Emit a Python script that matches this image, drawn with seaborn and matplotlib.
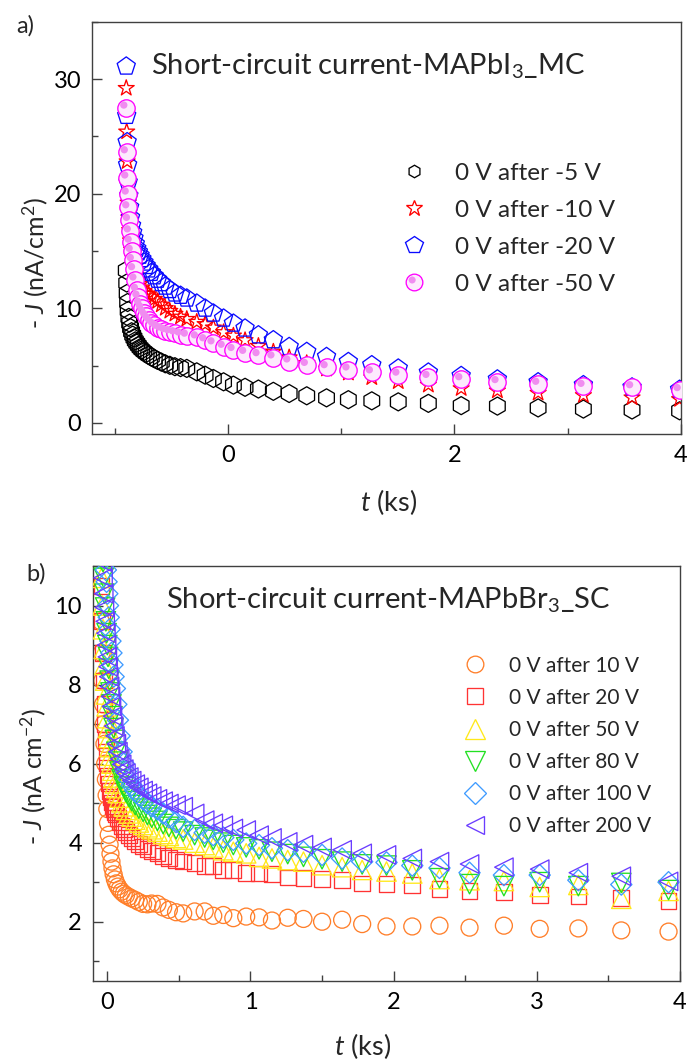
import numpy as np
import matplotlib
matplotlib.use("Agg")
import matplotlib.pyplot as plt
import seaborn as sns
from matplotlib.lines import Line2D
from matplotlib.path import Path
from matplotlib.ticker import MultipleLocator

sns.set_theme(style="ticks")
plt.rcParams['font.family'] = ['Lato', 'DejaVu Sans']
plt.rcParams['mathtext.fontset'] = 'custom'
plt.rcParams['mathtext.rm'] = 'Lato'
plt.rcParams['mathtext.it'] = 'Lato:italic'
plt.rcParams['mathtext.bf'] = 'Lato:bold'

# ---------------- Panel a data (MAPbI3_MC) ----------------
t_a = [-0.900, -0.896, -0.892, -0.888, -0.883, -0.877, -0.870, -0.862, -0.853, -0.843,
       -0.832, -0.820, -0.807, -0.793, -0.778, -0.762, -0.744, -0.724, -0.702, -0.678,
       -0.652, -0.623, -0.590, -0.555, -0.515, -0.470, -0.420, -0.365, -0.277, -0.203,
       -0.130, -0.040, 0.047, 0.150, 0.268, 0.400, 0.540, 0.695, 0.870, 1.063,
       1.270, 1.504, 1.770, 2.060, 2.380, 2.740, 3.140, 3.570, 3.990]
J_a_m5 = [13.3, 12.2, 11.3, 10.5, 9.8, 9.2, 8.7, 8.3, 7.95, 7.65,
          7.4, 7.15, 6.95, 6.75, 6.55, 6.38, 6.22, 6.06, 5.9, 5.75,
          5.6, 5.45, 5.3, 5.15, 5.02, 4.9, 4.82, 4.75, 4.45, 4.16,
          3.87, 3.58, 3.29, 3.1, 2.95, 2.75, 2.56, 2.36, 2.18, 2.02,
          1.92, 1.83, 1.7, 1.5, 1.46, 1.3, 1.2, 1.12, 1.05]
J_a_m10 = [29.2, 25.4, 22.8, 20.8, 19.2, 17.9, 16.8, 15.9, 15.1, 14.4,
           13.8, 13.3, 12.85, 12.45, 12.1, 11.8, 11.5, 11.25, 11.2, 11.0,
           10.8, 10.6, 10.3, 10.0, 9.75, 9.5, 9.25, 9.05, 8.8, 8.6,
           8.3, 7.9, 7.6, 7.2, 6.7, 6.2, 5.7, 5.2, 4.7, 4.35,
           3.95, 3.6, 3.3, 3.0, 2.8, 2.6, 2.4, 2.2, 2.05]
J_a_m20 = [31.1, 26.8, 24.5, 22.5, 21.0, 19.8, 18.8, 17.9, 17.2, 16.6,
           16.1, 15.6, 15.2, 14.9, 14.6, 14.3, 14.0, 13.7, 13.4, 13.1,
           12.8, 12.5, 12.2, 11.9, 11.6, 11.3, 11.1, 10.86, 10.42, 9.98,
           9.55, 9.11, 8.67, 8.24, 7.65, 7.22, 6.63, 6.2, 5.76, 5.32,
           5.04, 4.75, 4.4, 4.1, 3.8, 3.55, 3.3, 3.1, 2.9]
J_a_m50 = [27.5, 23.6, 21.4, 20.0, 18.8, 17.7, 16.7, 15.8, 15.0, 14.2,
           13.4, 12.5, 11.6, 11.0, 10.4, 10.0, 9.6, 9.3, 9.0, 8.75,
           8.5, 8.3, 8.15, 8.0, 7.9, 7.8, 7.7, 7.6, 7.45, 7.2,
           6.93, 6.63, 6.35, 6.1, 5.9, 5.7, 5.35, 5.05, 4.85, 4.65,
           4.4, 4.2, 4.0, 3.8, 3.55, 3.4, 3.22, 3.1, 2.85]
labels_a = ["0 V after -5 V", "0 V after -10 V", "0 V after -20 V", "0 V after -50 V"]

# ---------------- Panel b data (MAPbBr3_SC) ----------------
t_b = [-0.045, -0.040, -0.035, -0.030, -0.025, -0.020, -0.015, -0.010, -0.005, 0.0,
       0.005, 0.010, 0.016, 0.022, 0.029, 0.036, 0.044, 0.053,
       0.063, 0.074, 0.086, 0.10, 0.115, 0.13, 0.15, 0.17,
       0.195, 0.22, 0.25, 0.28, 0.31, 0.35, 0.39, 0.43, 0.48,
       0.53, 0.61, 0.68, 0.74, 0.81, 0.88, 0.97, 1.06, 1.15, 1.26, 1.37, 1.50, 1.64, 1.78, 1.95, 2.13,
       2.32, 2.53, 2.77, 3.02, 3.29, 3.59, 3.92]
J_b_10 = [9.6, 8.8, 8.1, 7.5, 7.0, 6.5, 6.0, 5.6, 5.2, 4.85,
          4.5, 4.2, 3.95, 3.72, 3.52, 3.35, 3.2, 3.07,
          2.97, 2.89, 2.82, 2.76, 2.71, 2.67, 2.63, 2.59,
          2.55, 2.5, 2.45, 2.44, 2.46, 2.45, 2.36, 2.3, 2.24,
          2.21, 2.26, 2.26, 2.15, 2.17, 2.09, 2.13, 2.11, 2.03, 2.1, 2.07, 2.0, 2.05, 1.94, 1.88, 1.88,
          1.9, 1.85, 1.9, 1.82, 1.83, 1.78, 1.75]
J_b_20 = [11.5, 10.5, 9.6, 8.8, 8.1, 7.5, 7.0, 6.6, 6.3, 6.0,
          5.7, 5.5, 5.3, 5.15, 5.02, 4.92, 4.84, 4.78,
          4.72, 4.62, 4.52, 4.43, 4.35, 4.27, 4.19, 4.11,
          4.03, 3.96, 3.9, 3.84, 3.79, 3.73, 3.67, 3.62, 3.57,
          3.52, 3.48, 3.41, 3.41, 3.31, 3.31, 3.24, 3.22, 3.21, 3.12, 3.10, 3.08, 3.06, 2.97, 2.95, 2.93,
          2.82, 2.78, 2.75, 2.68, 2.64, 2.6, 2.53]
J_b_50 = [11.5, 10.7, 10.0, 9.4, 8.9, 8.5, 8.1, 7.75, 7.45, 7.15,
          6.9, 6.65, 6.42, 6.2, 6.0, 5.82, 5.65, 5.5,
          5.38, 5.26, 5.14, 5.02, 4.92, 4.83, 4.74, 4.66,
          4.58, 4.51, 4.45, 4.39, 4.34, 4.28, 4.22, 4.17, 4.12,
          4.08, 4.0, 3.94, 3.88, 3.81, 3.77, 3.73, 3.64, 3.6, 3.56, 3.52, 3.43, 3.38, 3.31, 3.27, 3.22,
          3.08, 3.05, 3.03, 2.88, 2.93, 2.58, 2.78]
J_b_80 = [12.5, 12.0, 11.5, 11.1, 10.7, 10.3, 9.95, 9.6, 9.3, 9.0,
          8.7, 8.4, 8.1, 7.8, 7.5, 7.2, 6.9, 6.6,
          6.3, 6.05, 5.8, 5.6, 5.42, 5.28, 5.16, 5.05,
          4.95, 4.86, 4.78, 4.7, 4.63, 4.55, 4.47, 4.4, 4.34,
          4.28, 4.19, 4.13, 4.07, 4.0, 3.94, 3.88, 3.83, 3.77, 3.71, 3.64, 3.58, 3.52, 3.45, 3.42, 3.3,
          3.1, 2.95, 2.9, 3.0, 2.9, 2.98, 2.8]
J_b_100 = [13.5, 13.0, 12.6, 12.2, 11.8, 11.5, 11.2, 10.9, 10.6, 10.3,
           10.0, 9.7, 9.4, 9.1, 8.8, 8.5, 8.2, 7.9,
           7.5, 7.1, 6.7, 6.3, 6.0, 5.8, 5.6, 5.45,
           5.32, 5.2, 5.1, 5.0, 4.92, 4.84, 4.74, 4.64, 4.52,
           4.4, 4.32, 4.25, 4.19, 4.13, 4.07, 3.98, 3.94, 3.86, 3.81, 3.77, 3.69, 3.6, 3.52, 3.5, 3.42,
           3.36, 3.24, 3.18, 3.18, 3.05, 2.94, 3.0]
J_b_200 = [12.0, 11.5, 11.1, 10.7, 10.3, 9.95, 9.6, 9.3, 9.0, 8.7,
           8.45, 8.2, 7.95, 7.7, 7.45, 7.2, 6.95, 6.7,
           6.5, 6.3, 6.12, 5.98, 5.86, 5.76, 5.66, 5.57,
           5.48, 5.4, 5.32, 5.25, 5.18, 5.11, 5.05, 4.99, 4.95,
           4.91, 4.74, 4.57, 4.49, 4.44, 4.36, 4.32, 4.19, 4.12, 4.02, 3.95, 3.88, 3.82, 3.73, 3.69, 3.6,
           3.52, 3.46, 3.38, 3.33, 3.24, 3.15, 3.02]
labels_b = ["0 V after 10 V", "0 V after 20 V", "0 V after 50 V",
            "0 V after 80 V", "0 V after 100 V", "0 V after 200 V"]

# ---------------- figure ----------------
W, H = 689, 1059
fig = plt.figure(figsize=(W / 100, H / 100), dpi=100)
fig.patch.set_facecolor("white")

def px_axes(l, t, r, b):
    return fig.add_axes([l / W, 1 - b / H, (r - l) / W, (b - t) / H])

ax1 = px_axes(92.3, 21.7, 680.7, 434.3)
ax2 = px_axes(93.0, 566.0, 680.0, 981.0)

# sphere highlight marker (offset small ball inside circle)
circ = Path.circle((-0.28, 0.30), 0.42)
hl_path = Path(np.vstack([[[-1.0, -1.0], [1.0, 1.0]], circ.vertices]),
               [Path.MOVETO, Path.MOVETO] + list(circ.codes))

LW = 0.95

def hollow(ax, x, y, marker, ms, color, z):
    sns.scatterplot(x=x, y=y, ax=ax, marker=marker, s=ms ** 2, color=color,
                    facecolor="none", edgecolor=color, linewidth=LW, zorder=z, legend=False)

# Panel a
hollow(ax1, t_a, J_a_m5, "h", 13.0, "black", 2)
hollow(ax1, t_a, J_a_m10, "*", 12.0, "#ff0000", 3)
hollow(ax1, t_a, J_a_m20, "p", 13.7, "#0a0aff", 4)
sns.scatterplot(x=t_a, y=J_a_m50, ax=ax1, marker="o", s=12.5 ** 2, color="#ff00ff",
                facecolor="#fdeafd", edgecolor="#ff00ff", linewidth=LW, zorder=5, legend=False)
sns.scatterplot(x=t_a, y=J_a_m50, ax=ax1, marker=hl_path, s=12.5 ** 2, color="#f08cf0",
                facecolor="#f08cf0", edgecolor="none", linewidth=0, zorder=5.1, legend=False)

# Panel b
cols_b = ["#ff7f2a", "#ff3333", "#ffe81a", "#22e022", "#3f9bff", "#6a3cff"]
hollow(ax2, t_b, J_b_10, "o", 12.2, cols_b[0], 2)
hollow(ax2, t_b, J_b_20, "s", 11.3, cols_b[1], 3)
hollow(ax2, t_b, J_b_50, "^", 14.0, cols_b[2], 4)
hollow(ax2, t_b, J_b_80, "v", 14.0, cols_b[3], 5)
hollow(ax2, t_b, J_b_100, "D", 10.8, cols_b[4], 6)
hollow(ax2, t_b, J_b_200, "<", 13.3, cols_b[5], 7)

# axes styling
for ax in (ax1, ax2):
    for sp in ax.spines.values():
        sp.set_color("#404040")
        sp.set_linewidth(1.0)
        sp.set_visible(True)
    ax.tick_params(which="both", direction="in", colors="#404040", labelcolor="black",
                   top=False, right=False, labelsize=17, width=1.0, pad=8)
    ax.tick_params(which="major", length=7)
    ax.tick_params(which="minor", length=4)
    ax.set_facecolor("white")
    ax.grid(False)

ax1.set_xlim(-1.2, 4.0)
ax1.set_ylim(-1.0, 35.0)
ax1.xaxis.set_major_locator(MultipleLocator(2))
ax1.xaxis.set_minor_locator(MultipleLocator(1))
ax1.yaxis.set_major_locator(MultipleLocator(10))
ax1.yaxis.set_minor_locator(MultipleLocator(5))

ax2.set_xlim(-0.1, 4.0)
ax2.set_ylim(0.5, 11.0)
ax2.xaxis.set_major_locator(MultipleLocator(1))
ax2.xaxis.set_minor_locator(MultipleLocator(0.5))
ax2.yaxis.set_major_locator(MultipleLocator(2))
ax2.yaxis.set_minor_locator(MultipleLocator(1))

ax1.set_xlabel(r"$t$ (ks)", fontsize=19.5)
ax1.set_ylabel(r"- $J$ (nA/cm$^2$)", fontsize=18)
ax1.xaxis.set_label_coords(0.504, -0.164)
ax1.xaxis.label.set_va("center")
ax1.yaxis.set_label_coords(-0.097, 0.415)
ax1.yaxis.label.set_va("center")

ax2.set_xlabel(r"$t$ (ks)", fontsize=19.5)
ax2.set_ylabel(r"- $J$ (nA cm$^{-2}$)", fontsize=18)
ax2.xaxis.set_label_coords(0.459, -0.156)
ax2.xaxis.label.set_va("center")
ax2.yaxis.set_label_coords(-0.102, 0.494)
ax2.yaxis.label.set_va("center")

ax1.text(0.0998, 0.873, r"Short-circuit current-MAPbI$_3$_MC", transform=ax1.transAxes,
         fontsize=21, ha="left", va="baseline")
ax2.text(0.124, 0.898, r"Short-circuit current-MAPbBr$_3$_SC", transform=ax2.transAxes,
         fontsize=21, ha="left", va="baseline")

fig.text(25 / W, 1 - 26 / H, "a)", fontsize=17, ha="center", va="center")
fig.text(36 / W, 1 - 574 / H, "b)", fontsize=17, ha="center", va="center")

# legends
h_a = [Line2D([], [], ls="none", marker="h", ms=9, mfc="none", mec="black", mew=LW),
       Line2D([], [], ls="none", marker="*", ms=12, mfc="none", mec="#ff0000", mew=LW),
       Line2D([], [], ls="none", marker="p", ms=13, mfc="none", mec="#0a0aff", mew=LW),
       (Line2D([], [], ls="none", marker="o", ms=12, mfc="#fdeafd", mec="#ff00ff", mew=LW),
        Line2D([], [], ls="none", marker=hl_path, ms=12, mfc="#f08cf0", mec="none"))]
ax1.legend(h_a, labels_a, loc="upper left", bbox_to_anchor=(0.526, 0.658), frameon=False,
           fontsize=17.5, borderpad=0, borderaxespad=0, handlelength=1.0, handletextpad=1.19,
           labelspacing=0.66)

mk_b = ["o", "s", "^", "v", "D", "<"]
ms_b = [12, 11, 14, 14, 11, 13]
h_b = [Line2D([], [], ls="none", marker=m, ms=s, mfc="none", mec=c, mew=LW)
       for m, s, c in zip(mk_b, ms_b, cols_b)]
ax2.legend(h_b, labels_b, loc="upper left", bbox_to_anchor=(0.633, 0.784), frameon=False,
           fontsize=15, borderpad=0, borderaxespad=0, handlelength=1.0, handletextpad=1.13,
           labelspacing=0.58)

fig.savefig("out.png", dpi=100, facecolor="white")
